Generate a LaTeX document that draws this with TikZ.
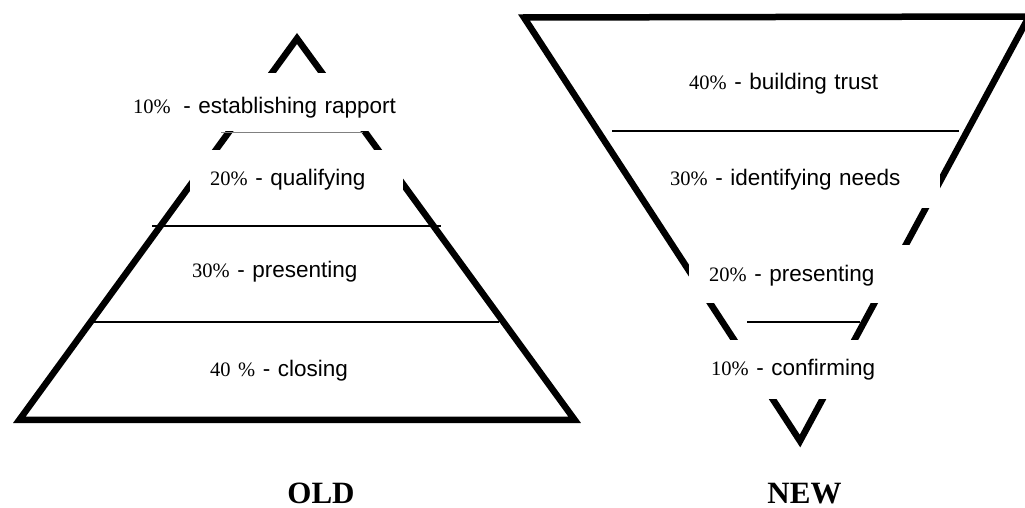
\documentclass[tikz,border=0pt]{standalone}
\usepackage{fontspec}
\setmainfont{Liberation Sans}
\newfontfamily\numfont{Liberation Serif}
\newfontfamily\titlefont{Liberation Serif}
\usetikzlibrary{positioning}

\newcommand{\pct}[1]{{\numfont\fontsize{20.5}{24}\selectfont #1}}

\tikzset{
    outline/.style={line width=6.5pt, line join=miter},
    divider/.style={line width=1.5pt},
    band/.style={fill=white, inner ysep=0pt, anchor=base west, align=left,
                 font=\fontsize{22.5}{26}\selectfont},
    title/.style={anchor=base, inner sep=0pt, text depth=0pt,
                  font=\titlefont\bfseries\fontsize{31}{36}\selectfont}
}

\begin{document}
\begin{tikzpicture}[x=1pt, y=-1pt]
            \useasboundingbox (0,0) rectangle (1025,508);

            % old pyramid
            \draw[outline] (297,38.5) -- (574.6,419.75) -- (19.4,419.75) -- cycle;
            \draw[divider, line width=1pt, gray] (221,132.5) -- (363,132.5);
            \draw[divider] (152,226) -- (441,226);
            \draw[divider] (93,322) -- (499,322);

            % new funnel
            \draw[outline] (524,17.5) -- (1029,16.5) -- (800,441) -- cycle;
            \draw[divider] (612,131) -- (959,131);
            \draw[divider] (747,322) -- (860,322);

            \node (old1) [band, text width=277pt, inner xsep=15pt, text height=41pt, text depth=17.5pt] at (118,114) {\pct{10\%}\hspace{5pt} - establishing rapport};
            \node (old2) [band, text width=173pt, inner xsep=20pt, text height=35pt, text depth=20pt] at (190,185) {\pct{20\%} - qualifying};
            \node (old3) [band, text width=208pt, inner xsep=20pt, text height=37pt, text depth=23pt] at (172,277) {\pct{30\%} - presenting};
            \node (old4) [band, text width=170pt, inner xsep=20pt, text height=36pt, text depth=29pt] at (190,376) {\pct{40 \%} - closing};

            \node (new1) [band, text width=221pt, inner xsep=20pt, text height=40pt, text depth=32pt] at (669,90) {\pct{40\%} - building trust};
            \node (new2) [band, text width=257pt, inner xsep=13pt, text height=35pt, text depth=23pt] at (657,185) {\pct{30\%} - identifying needs};
            \node (new3) [band, text width=191pt, inner xsep=20pt, text height=36pt, text depth=22pt] at (689,281) {\pct{20\%} - presenting};
            \node (new4) [band, text width=189pt, inner xsep=20pt, text height=35pt, text depth=24pt] at (691,375) {\pct{10\%} - confirming};

            \node (old) [title] at (321,503) {OLD};
            \node (new) [title] at (804.5,503) {NEW};

\end{tikzpicture}
\end{document}
